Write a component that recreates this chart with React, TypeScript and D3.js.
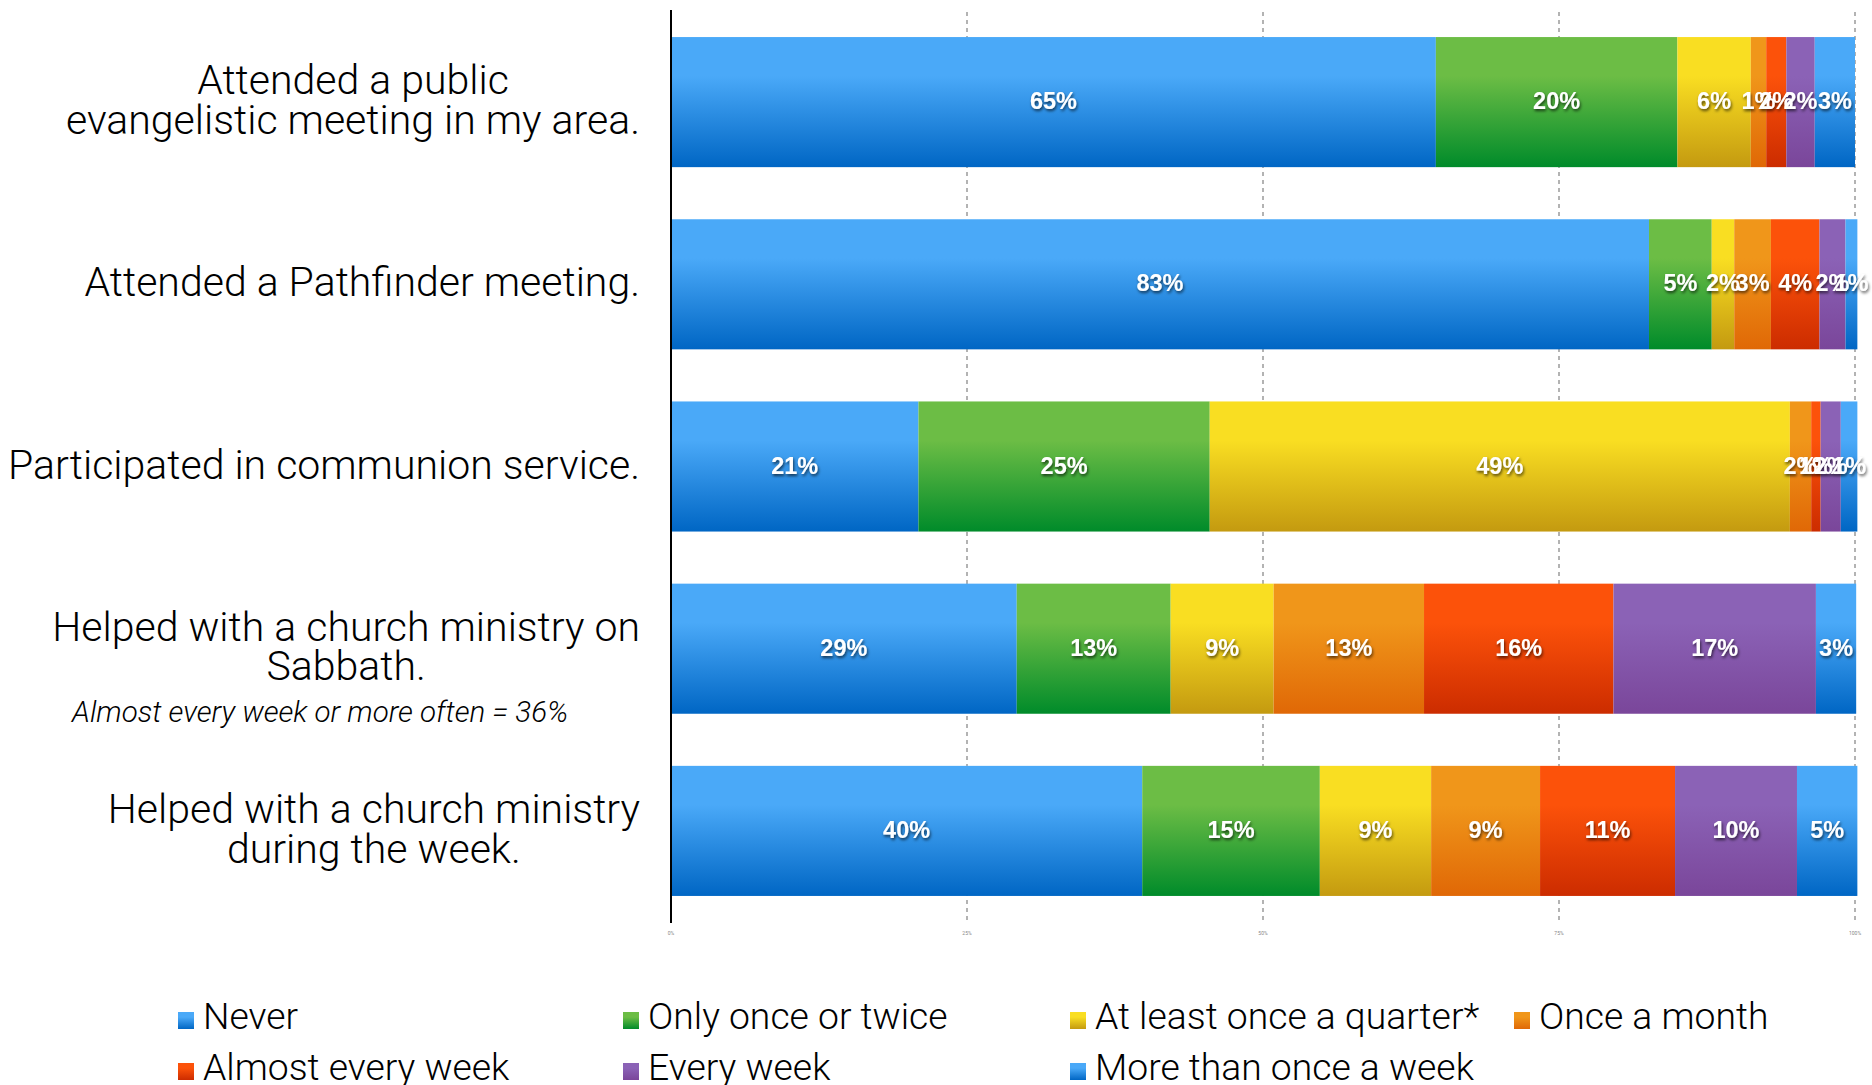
import { useEffect, useRef } from 'react'
import * as d3 from 'd3'

// category labels (one entry per line)
const categories: string[][] = [
  ['Attended a public', 'evangelistic meeting in my area.'],
  ['Attended a Pathfinder meeting.'],
  ['Participated in communion service.'],
  ['Helped with a church ministry on', 'Sabbath.'],
  ['Helped with a church ministry', 'during the week.'],
]

const seriesNames = [
  'Never',
  'Only once or twice',
  'At least once a quarter*',
  'Once a month',
  'Almost every week',
  'Every week',
  'More than once a week',
]

// percentages per category
const never = [64.6, 82.6, 20.9, 29.2, 39.8]
const onceOrTwice = [20.4, 5.3, 24.6, 13.0, 15.0]
const quarterly = [6.2, 1.9, 49.0, 8.7, 9.4]
const monthly = [1.3, 3.1, 1.8, 12.7, 9.2]
const almostWeekly = [1.7, 4.1, 0.8, 16.0, 11.4]
const weekly = [2.4, 2.2, 1.7, 17.1, 10.3]
const moreThanWeekly = [3.4, 1.0, 1.4, 3.4, 5.1]

const xTicks = [0, 25, 50, 75, 100]
const note = 'Almost every week or more often = 36%'

// top / bottom gradient colours per series
const gradients: [string, string][] = [
  ['#4aa9f8', '#0066c4'],
  ['#6cbd45', '#008b2a'],
  ['#f9de22', '#c49a10'],
  ['#f0961a', '#e06806'],
  ['#fc520a', '#cc2c00'],
  ['#8b62b6', '#7a469a'],
  ['#4aa9f8', '#0066c4'],
]

const FONT = 'Roboto, "Liberation Sans", Arial, sans-serif'

export default function App() {
  const svgRef = useRef<SVGSVGElement>(null)

  useEffect(() => {
    if (!svgRef.current) return
    const width = 1872
    const height = 1085
    const svg = d3.select(svgRef.current)
    svg.selectAll('*').remove()
    svg.attr('width', width).attr('height', height)

    const cols = [never, onceOrTwice, quarterly, monthly, almostWeekly, weekly, moreThanWeekly]
    const table = categories.map((c, i) => {
      const row: Record<string, number> = { idx: i }
      seriesNames.forEach((s, j) => { row[s] = cols[j][i] })
      return row
    })
    const stacked = d3.stack<Record<string, number>>().keys(seriesNames)(table)

    const x = d3.scaleLinear().domain([0, 100]).range([671, 1855])
    const y = d3.scaleBand<number>()
      .domain(categories.map((_, i) => i))
      .range([11, 922])
      .paddingInner(0.286)
      .paddingOuter(0.143)

    const defs = svg.append('defs')
    gradients.forEach(([top, bot], i) => {
      const g = defs.append('linearGradient').attr('id', `grad${i}`)
        .attr('x1', 0).attr('y1', 0).attr('x2', 0).attr('y2', 1)
      g.append('stop').attr('offset', '0%').attr('stop-color', top)
      g.append('stop').attr('offset', '30%').attr('stop-color', top)
      g.append('stop').attr('offset', '100%').attr('stop-color', bot)
    })
    const f = defs.append('filter').attr('id', 'shadow')
      .attr('x', '-20%').attr('y', '-30%').attr('width', '140%').attr('height', '170%')
    f.append('feDropShadow').attr('dx', 1).attr('dy', 2).attr('stdDeviation', 1.5)
      .attr('flood-color', '#000').attr('flood-opacity', 0.65)

    // dashed grid lines
    svg.append('g').selectAll('line')
      .data(xTicks.slice(1))
      .join('line')
      .attr('x1', (d) => x(d)).attr('x2', (d) => x(d))
      .attr('y1', 12).attr('y2', 923)
      .attr('stroke', '#9a9a9a')
      .attr('stroke-width', 1.5)
      .attr('stroke-dasharray', '4,4')

    // tiny tick labels under the axis
    svg.append('g').selectAll('text')
      .data(xTicks)
      .join('text')
      .attr('x', (d) => x(d)).attr('y', 935)
      .attr('text-anchor', 'middle')
      .attr('font-size', 5)
      .attr('font-family', FONT)
      .attr('fill', '#888')
      .text((d) => `${d}%`)

    // bars
    const layers = svg.append('g').selectAll('g')
      .data(stacked)
      .join('g')
      .attr('fill', (_, i) => `url(#grad${i})`)
    layers.selectAll('rect')
      .data((d) => d)
      .join('rect')
      .attr('x', (d) => x(d[0]))
      .attr('width', (d) => x(d[1]) - x(d[0]))
      .attr('y', (d) => y(d.data.idx) ?? 0)
      .attr('height', y.bandwidth())

    // axis line
    svg.append('line')
      .attr('x1', 671).attr('x2', 671)
      .attr('y1', 10).attr('y2', 923)
      .attr('stroke', '#000').attr('stroke-width', 2)

    // value labels
    const labels = svg.append('g').attr('filter', 'url(#shadow)')
    stacked.forEach((layer) => {
      labels.append('g').selectAll('text')
        .data(layer)
        .join('text')
        .attr('x', (d) => (x(d[0]) + x(d[1])) / 2)
        .attr('y', (d) => (y(d.data.idx) ?? 0) + y.bandwidth() / 2 + 7)
        .attr('text-anchor', 'middle')
        .attr('font-family', '"Liberation Sans", Arial, sans-serif')
        .attr('font-weight', 'bold')
        .attr('font-size', 23.5)
        .attr('fill', '#fff')
        .text((d) => `${Math.round(d[1] - d[0])}%`)
    })

    // category labels: block right-aligned at 640, lines centred within it
    const lineH = 39.5
    categories.forEach((lines, i) => {
      const cy = (y(i) ?? 0) + y.bandwidth() / 2
      const g = svg.append('g')
      const texts = lines.map((line, k) =>
        g.append('text')
          .attr('y', cy + (k - (lines.length - 1) / 2) * lineH + 12)
          .attr('text-anchor', 'middle')
          .attr('font-family', FONT)
          .attr('font-weight', 300)
          .attr('font-size', 41)
          .attr('fill', '#000')
          .text(line))
      const maxW = d3.max(texts, (t) => (t.node() as SVGTextElement).getComputedTextLength()) ?? 0
      texts.forEach((t) => t.attr('x', 640 - maxW / 2))
    })

    svg.append('text')
      .attr('x', 72).attr('y', 722)
      .attr('font-family', FONT)
      .attr('font-weight', 300)
      .attr('font-style', 'italic')
      .attr('font-size', 29.5)
      .attr('fill', '#000')
      .text(note)

    // legend
    const legendX = [178, 623, 1070, 1514]
    const legendY = [1029, 1080]
    const leg = svg.append('g').selectAll('g')
      .data(seriesNames)
      .join('g')
      .attr('transform', (_, i) => `translate(${legendX[i % 4]},${legendY[Math.floor(i / 4)]})`)
    leg.append('rect')
      .attr('x', 0).attr('y', -17)
      .attr('width', 16).attr('height', 17)
      .attr('fill', (_, i) => `url(#grad${i})`)
    leg.append('text')
      .attr('x', 25).attr('y', 0)
      .attr('font-family', FONT)
      .attr('font-weight', 300)
      .attr('font-size', 37.3)
      .attr('fill', '#000')
      .text((d) => d)
  }, [])

  return (
    <svg ref={svgRef} style={{ position: 'fixed', left: 0, top: 0, display: 'block', background: '#fff' }} />
  )
}
